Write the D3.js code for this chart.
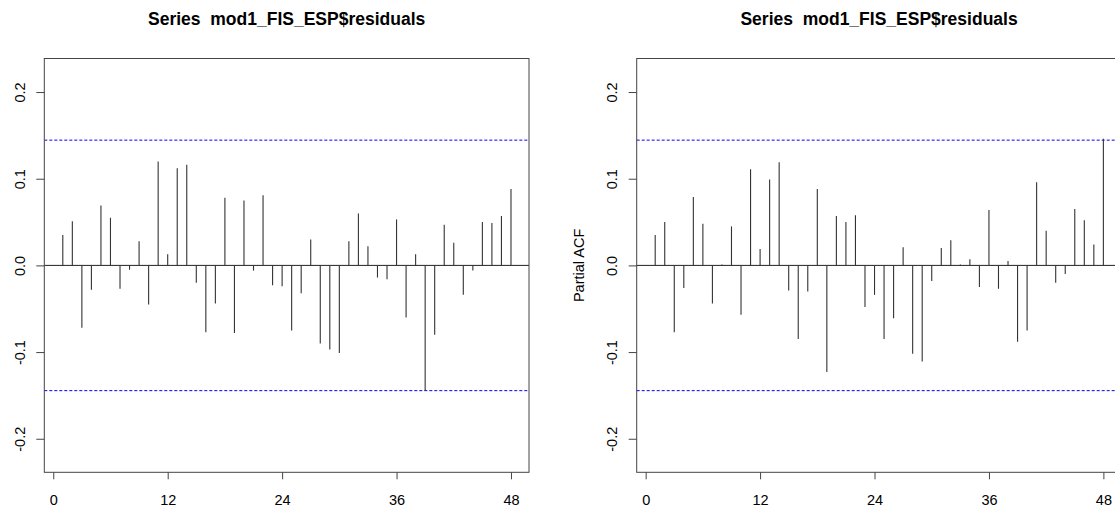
<!DOCTYPE html>
<html>
<head>
<meta charset="utf-8">
<script src="https://cdn.jsdelivr.net/npm/d3@7"></script>
<style>
  html, body { margin: 0; padding: 0; background: #fff; }
  svg { display: block; }
  text { font-family: "Liberation Sans", Arial, sans-serif; fill: #000; }
</style>
</head>
<body>
<svg id="chart" width="1115" height="508"></svg>
<script>
// ---- data ----
const lags = d3.range(1, 49);
const acfValues = [
  0.035, 0.051, -0.072, -0.028, 0.069, 0.055, -0.027, -0.005, 0.028, -0.045,
  0.120, 0.013, 0.112, 0.116, -0.020, -0.077, -0.044, 0.078, -0.078, 0.075,
  -0.006, 0.081, -0.023, -0.024, -0.075, -0.032, 0.030, -0.090, -0.097, -0.101,
  0.028, 0.060, 0.022, -0.014, -0.016, 0.053, -0.060, 0.013, -0.145, -0.080,
  0.047, 0.026, -0.034, -0.006, 0.050, 0.049, 0.057, 0.088
];
const pacfValues = [
  0.035, 0.050, -0.077, -0.026, 0.079, 0.048, -0.044, 0.001, 0.045, -0.057,
  0.111, 0.019, 0.099, 0.119, -0.029, -0.085, -0.030, 0.088, -0.123, 0.057,
  0.050, 0.058, -0.048, -0.034, -0.085, -0.061, 0.021, -0.102, -0.111, -0.018,
  0.020, 0.029, 0.001, 0.007, -0.025, 0.064, -0.027, 0.005, -0.088, -0.075,
  0.096, 0.040, -0.020, -0.010, 0.065, 0.052, 0.024, 0.146
];
const xTicks = [0, 12, 24, 36, 48];
const yTicks = [-0.2, -0.1, 0.0, 0.1, 0.2];
const ciLimit = 0.1445;
const titleText = "Series  mod1_FIS_ESP$residuals";
const panelLabels = ["ACF", "Partial ACF"];

// ---- layout ----
const svg = d3.select("#chart");
const panelOffsets = [0, 592.4];
const box = { left: 44.3, right: 529, top: 58.5, bottom: 472.3 };
const xDomain = [-0.94, 49.89];
const yDomain = [-0.2387, 0.2387];

function drawPanel(values, offset, yLabel) {
  const g = svg.append("g").attr("transform", `translate(${offset},0)`);
  const x = d3.scaleLinear().domain(xDomain).range([box.left, box.right]);
  const y = d3.scaleLinear().domain(yDomain).range([box.bottom, box.top]);

  // title
  g.append("text")
    .attr("x", (box.left + box.right) / 2)
    .attr("y", 25)
    .attr("text-anchor", "middle")
    .attr("xml:space", "preserve")
    .style("white-space", "pre")
    .style("font-size", "17.5px")
    .style("font-weight", "bold")
    .text(titleText);

  // zero line
  g.append("line")
    .attr("x1", box.left).attr("x2", box.right)
    .attr("y1", y(0)).attr("y2", y(0))
    .attr("stroke", "#222").attr("stroke-width", 1);

  // confidence lines
  [ciLimit, -ciLimit].forEach(c => {
    g.append("line")
      .attr("x1", box.left).attr("x2", box.right)
      .attr("y1", y(c)).attr("y2", y(c))
      .attr("stroke", "#0000ff").attr("stroke-width", 1)
      .attr("stroke-dasharray", "3,2");
  });

  // bars (spikes)
  g.append("g").selectAll("line")
    .data(lags.map((l, i) => ({ lag: l, v: values[i] })))
    .join("line")
    .attr("x1", d => x(d.lag)).attr("x2", d => x(d.lag))
    .attr("y1", y(0)).attr("y2", d => y(d.v))
    .attr("stroke", "#333").attr("stroke-width", 1.1);

  // box
  g.append("rect")
    .attr("x", box.left).attr("y", box.top)
    .attr("width", box.right - box.left).attr("height", box.bottom - box.top)
    .attr("fill", "none").attr("stroke", "#444").attr("stroke-width", 1);

  // x axis
  const xAxis = d3.axisBottom(x).tickValues(xTicks).tickSize(7).tickPadding(15)
    .tickFormat(d3.format("d"));
  const xg = g.append("g").attr("transform", `translate(0,${box.bottom})`).call(xAxis);
  xg.select(".domain").remove();
  xg.selectAll(".tick line").attr("stroke", "#444");
  xg.selectAll(".tick text").style("font-size", "14.5px")
    .style("font-family", "'Liberation Sans', Arial, sans-serif").attr("fill", "#000");

  // y axis
  const yAxis = d3.axisLeft(y).tickValues(yTicks).tickSize(8).tickPadding(0)
    .tickFormat(d3.format(".1f"));
  const yg = g.append("g").attr("transform", `translate(${box.left},0)`).call(yAxis);
  yg.select(".domain").remove();
  yg.selectAll(".tick line").attr("stroke", "#444");
  yg.selectAll(".tick text")
    .style("font-size", "14.5px")
    .style("font-family", "'Liberation Sans', Arial, sans-serif")
    .attr("fill", "#000")
    .attr("text-anchor", "middle")
    .attr("x", 0).attr("dy", 0)
    .attr("transform", `translate(${-(box.left - 25)},0) rotate(-90)`)
    .text(d => (d < 0 ? "-" : "") + d3.format(".1f")(Math.abs(d)));

  // y label
  const lx = box.left - 53;
  if (offset + lx > 0) {
    g.append("text")
      .attr("transform", `translate(${lx},${(box.top + box.bottom) / 2}) rotate(-90)`)
      .attr("text-anchor", "middle")
      .style("font-size", "14.5px")
      .text(yLabel);
  }
}

drawPanel(acfValues, panelOffsets[0], panelLabels[0]);
drawPanel(pacfValues, panelOffsets[1], panelLabels[1]);
</script>
</body>
</html>
